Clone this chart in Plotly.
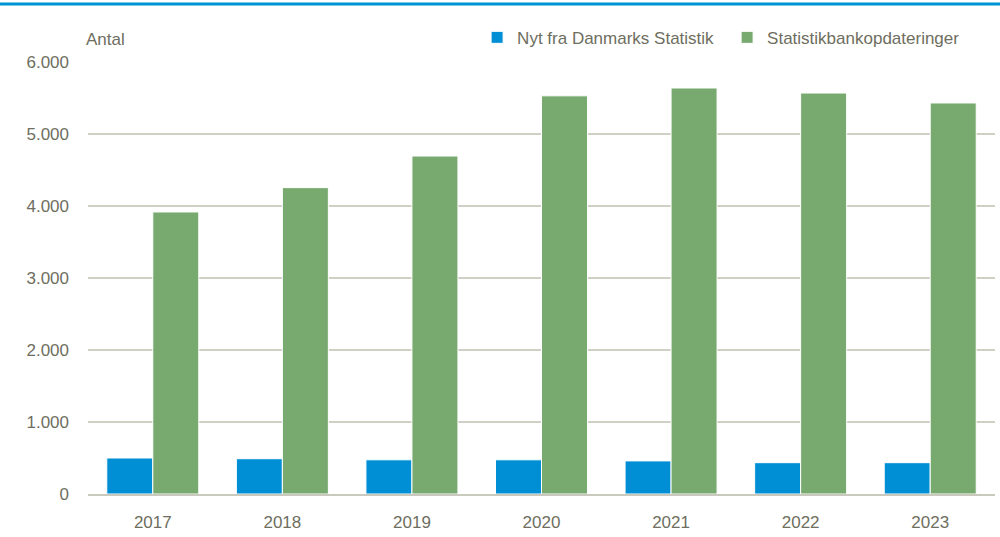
import plotly.graph_objects as go

years = ["2017", "2018", "2019", "2020", "2021", "2022", "2023"]
nyt = [500, 490, 475, 475, 460, 435, 435]
statbank = [3917, 4255, 4694, 5530, 5639, 5569, 5431]
yticks = [0, 1000, 2000, 3000, 4000, 5000, 6000]
ytick_labels = ["0", "1.000", "2.000", "3.000", "4.000", "5.000", "6.000"]

FONT = "Liberation Sans Narrow, Arial Narrow, Liberation Sans, sans-serif"
TXT = "#6e6e60"

fig = go.Figure()
fig.add_bar(x=years, y=nyt, name="Nyt fra Danmarks Statistik",
            marker=dict(color="#008fd5", line=dict(color="white", width=1)))
fig.add_bar(x=years, y=statbank, name="Statistikbankopdateringer",
            marker=dict(color="#78aa6f", line=dict(color="white", width=1)))

fig.update_layout(
    width=1000, height=537,
    margin=dict(l=88, r=5, t=62, b=43, autoexpand=False),
    paper_bgcolor="white", plot_bgcolor="white",
    barmode="group", bargap=0.29, bargroupgap=0.0,
    font=dict(family=FONT, color=TXT, size=17),
    showlegend=True,
    legend=dict(orientation="h", x=0.429, y=1.056, xanchor="left", yanchor="middle",
                font=dict(size=17, color=TXT), entrywidth=205, entrywidthmode="pixels",
                bgcolor="rgba(0,0,0,0)", traceorder="normal"),
    xaxis=dict(showgrid=False, showline=True, linecolor="#c9c9bd", linewidth=2,
               ticks="", ticklabelstandoff=12, tickfont=dict(size=17, color=TXT)),
    yaxis=dict(range=[0, 6000], tickvals=yticks, ticktext=ytick_labels,
               showgrid=True, gridcolor="#cfcfc3", gridwidth=2, zeroline=False,
               showline=False, ticks="", ticklabelstandoff=18,
               tickfont=dict(size=17, color=TXT)),
    shapes=[dict(type="line", xref="paper", yref="paper",
                 x0=-88/907, x1=912/907, y0=490/432, y1=490/432,
                 line=dict(color="#0094d5", width=3))],
    annotations=[dict(text="Antal", xref="paper", yref="paper",
                      x=-4/907, y=(494-39)/432, xanchor="left", yanchor="middle",
                      showarrow=False, font=dict(size=17, color=TXT))],
)

fig.write_html("out.html", config={"displayModeBar": False},
               post_script="document.body.style.margin='0';")
